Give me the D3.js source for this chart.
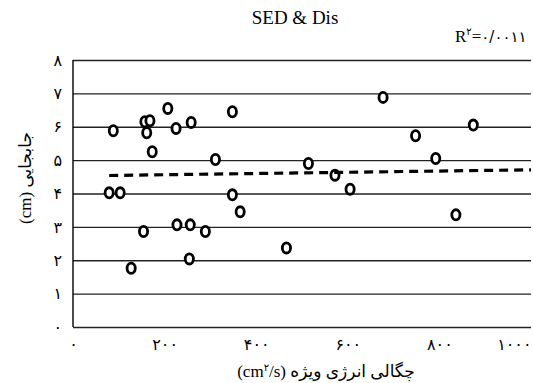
<!DOCTYPE html>
<html>
<head>
<meta charset="utf-8">
<script src="https://cdn.jsdelivr.net/npm/d3@7"></script>
<style>
  html, body { margin: 0; padding: 0; background: #fff; }
  svg { display: block; }
  text { font-family: "Liberation Serif", "DejaVu Sans", serif; fill: #000; }
</style>
</head>
<body>
<svg id="chart" width="533" height="383"></svg>
<script>
// Specific energy density (cm²/s) against displacement (cm)
const energyDensity = [88, 157, 168, 161, 207, 225, 258, 348, 173, 311,
                       79, 103, 348, 365, 154, 227, 256, 289, 466, 254,
                       127, 677, 874, 748, 792, 514, 572, 605, 836];
const displacement  = [5.88, 6.15, 6.18, 5.82, 6.55, 5.95, 6.13, 6.45, 5.25, 5.02,
                       4.02, 4.02, 3.96, 3.45, 2.86, 3.06, 3.06, 2.86, 2.37, 2.04,
                       1.76, 6.88, 6.05, 5.73, 5.05, 4.90, 4.55, 4.13, 3.36];

// Linear trend line end points
const trendX = [79, 1000];
const trendY = [4.54, 4.71];

const xTicks = [0, 200, 400, 600, 800, 1000];
const xTickLabels = ["۰", "۲۰۰", "۴۰۰", "۶۰۰", "۸۰۰", "۱۰۰۰"];
const yTicks = [0, 1, 2, 3, 4, 5, 6, 7, 8];
const yTickLabels = ["۰", "۱", "۲", "۳", "۴", "۵", "۶", "۷", "۸"];

const svg = d3.select("#chart");
const plotLeft = 73, plotRight = 531, plotTop = 60, plotBottom = 327;
const digitFont = "'DejaVu Sans', sans-serif";

const x = d3.scaleLinear().domain([0, 1000]).range([plotLeft, plotRight]);
const y = d3.scaleLinear().domain([0, 8]).range([plotBottom, plotTop]);

// Horizontal gridlines with y tick labels
const yAxis = svg.append("g")
  .attr("transform", `translate(${plotLeft},0)`)
  .call(d3.axisLeft(y)
    .tickValues(yTicks)
    .tickSize(-(plotRight - plotLeft))
    .tickPadding(11)
    .tickFormat((d, i) => yTickLabels[i]));
yAxis.select(".domain").remove();
yAxis.selectAll(".tick line").attr("stroke", "#222").attr("stroke-width", 1.3);
yAxis.selectAll(".tick text")
  .style("font-family", digitFont)
  .attr("font-size", 16);

// Vertical axis line
svg.append("line")
  .attr("x1", plotLeft).attr("x2", plotLeft)
  .attr("y1", y(8)).attr("y2", y(0))
  .attr("stroke", "#000").attr("stroke-width", 1.4);

// X tick labels
const xAxis = svg.append("g")
  .attr("transform", `translate(0,${plotBottom})`)
  .call(d3.axisBottom(x)
    .tickValues(xTicks)
    .tickSize(0)
    .tickPadding(12)
    .tickFormat((d, i) => xTickLabels[i]));
xAxis.select(".domain").remove();
xAxis.selectAll(".tick text")
  .style("font-family", digitFont)
  .attr("font-size", 16);
// keep the last label inside the chart area
xAxis.selectAll(".tick text").filter(d => d === 1000)
  .attr("text-anchor", "end").attr("x", 531 - x(1000));

// Data points
const pts = energyDensity.map((v, i) => ({ e: v, d: displacement[i] }));
svg.append("g").selectAll("ellipse")
  .data(pts)
  .join("ellipse")
  .attr("cx", p => x(p.e))
  .attr("cy", p => y(p.d))
  .attr("rx", 4.1)
  .attr("ry", 5.1)
  .attr("fill", "#fff")
  .attr("stroke", "#000")
  .attr("stroke-width", 2.8);

// Trend line
svg.append("path")
  .datum(trendX.map((v, i) => [v, trendY[i]]))
  .attr("d", d3.line().x(p => x(p[0])).y(p => y(p[1])))
  .attr("fill", "none")
  .attr("stroke", "#000")
  .attr("stroke-width", 3.2)
  .attr("stroke-dasharray", "9,6");

// Title
svg.append("text")
  .attr("x", 295).attr("y", 24)
  .attr("text-anchor", "middle")
  .attr("font-size", 19)
  .text("SED & Dis");

// R² label
const r2 = svg.append("text")
  .attr("x", 455).attr("y", 42)
  .attr("font-size", 17);
r2.append("tspan").text("R");
r2.append("tspan").attr("font-size", 10).attr("dy", -7).style("font-family", digitFont).text("۲");
r2.append("tspan").attr("dy", 7).text("=");
r2.append("tspan").attr("font-size", 15).style("font-family", digitFont).text("۰/۰۰۱۱");

// X axis title
const xt = svg.append("text")
  .attr("x", 326).attr("y", 377)
  .attr("text-anchor", "middle")
  .attr("font-size", 17);
xt.append("tspan").text("(cm");
xt.append("tspan").attr("font-size", 10).attr("dy", -6).text("۲");
xt.append("tspan").attr("dy", 6).text("/s) چگالی انرژی ویژه");

// Y axis title
svg.append("text")
  .attr("transform", "translate(25,178) rotate(-90)")
  .attr("text-anchor", "middle")
  .attr("dominant-baseline", "central")
  .attr("font-size", 17)
  .text("(cm) جابجایی");
</script>
</body>
</html>
